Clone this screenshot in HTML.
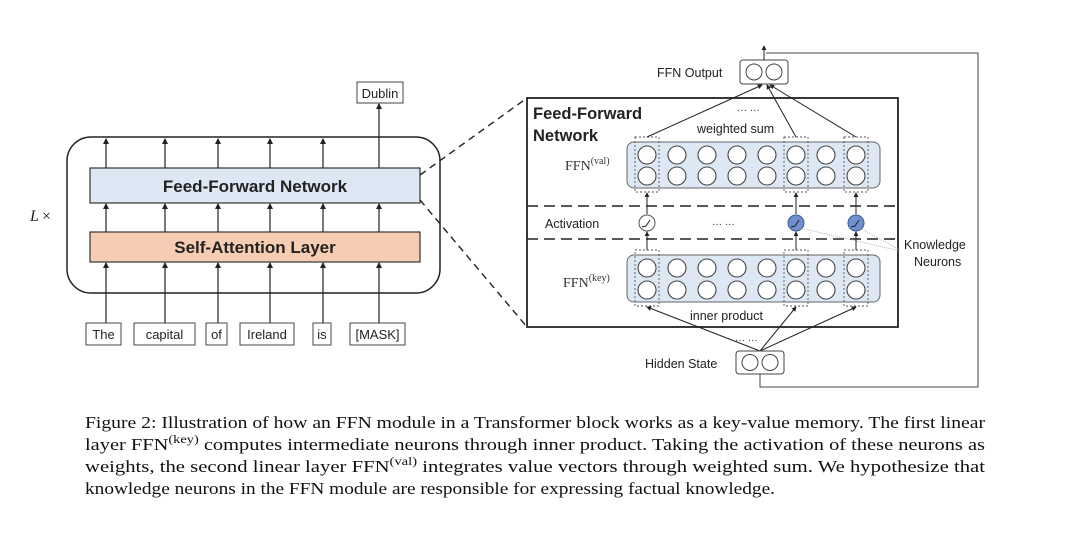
<!DOCTYPE html>
<html><head><meta charset="utf-8"><style>
html,body{margin:0;padding:0;background:#fff;}
svg{display:block;}
.s{font-family:"Liberation Sans",sans-serif;}
.r{font-family:"Liberation Serif",serif;}
</style></head><body>
<svg width="1077" height="543" viewBox="0 0 1077 543" xmlns="http://www.w3.org/2000/svg">
<defs>
<marker id="a" viewBox="0 0 6 6" refX="5" refY="3" markerWidth="5" markerHeight="5" orient="auto"><path d="M0,0 L6,3 L0,6 z" fill="#222"/></marker>
</defs>
<rect width="1077" height="543" fill="#fff"/>
<!-- LEFT -->
<rect x="67" y="137" width="373" height="156" rx="24" fill="none" stroke="#222" stroke-width="1.5"/>
<g stroke="#222" stroke-width="1.2" marker-end="url(#a)">
<line x1="106" y1="323" x2="106" y2="263"/><line x1="165" y1="323" x2="165" y2="263"/><line x1="218" y1="323" x2="218" y2="263"/><line x1="270" y1="323" x2="270" y2="263"/><line x1="323" y1="323" x2="323" y2="263"/><line x1="379" y1="323" x2="379" y2="263"/>
<line x1="106" y1="232" x2="106" y2="204"/><line x1="165" y1="232" x2="165" y2="204"/><line x1="218" y1="232" x2="218" y2="204"/><line x1="270" y1="232" x2="270" y2="204"/><line x1="323" y1="232" x2="323" y2="204"/><line x1="379" y1="232" x2="379" y2="204"/>
<line x1="106" y1="168" x2="106" y2="139"/><line x1="165" y1="168" x2="165" y2="139"/><line x1="218" y1="168" x2="218" y2="139"/><line x1="270" y1="168" x2="270" y2="139"/><line x1="323" y1="168" x2="323" y2="139"/><line x1="379" y1="168" x2="379" y2="104"/>
</g>
<rect x="90" y="168" width="330" height="35" fill="#dde8f4" stroke="#333" stroke-width="1.2"/>
<text x="255" y="192" class="s" font-size="17" font-weight="bold" text-anchor="middle" fill="#222">Feed-Forward Network</text>
<rect x="90" y="232" width="330" height="30" fill="#f6cdb3" stroke="#333" stroke-width="1.2"/>
<text x="255" y="253" class="s" font-size="17" font-weight="bold" text-anchor="middle" fill="#222">Self-Attention Layer</text>
<text x="30" y="221" class="r" font-size="16" font-style="italic" fill="#222">L</text><text x="42" y="221" class="r" font-size="16" fill="#222">×</text>
<g fill="#fff" stroke="#444" stroke-width="1">
<rect x="86" y="323" width="35" height="22"/><rect x="134" y="323" width="61" height="22"/><rect x="206" y="323" width="21" height="22"/><rect x="240" y="323" width="54" height="22"/><rect x="313" y="323" width="18" height="22"/><rect x="350" y="323" width="55" height="22"/>
<rect x="357" y="82" width="46" height="21"/>
</g>
<g class="s" font-size="13" fill="#222" text-anchor="middle">
<text x="103.5" y="339">The</text><text x="164.5" y="339">capital</text><text x="216.5" y="339">of</text><text x="267" y="339">Ireland</text><text x="322" y="339">is</text><text x="377.5" y="339">[MASK]</text>
<text x="380" y="98">Dublin</text>
</g>
<line x1="420" y1="175" x2="527" y2="98" stroke="#222" stroke-width="1.4" stroke-dasharray="7,5"/>
<line x1="420" y1="200" x2="527" y2="327" stroke="#222" stroke-width="1.4" stroke-dasharray="7,5"/>
<!-- RIGHT -->
<rect x="527" y="98" width="371" height="229" fill="#fff" stroke="#222" stroke-width="1.8"/>
<text x="533" y="119" class="s" font-size="16.5" font-weight="bold" fill="#222">Feed-Forward</text>
<text x="533" y="141" class="s" font-size="16.5" font-weight="bold" fill="#222">Network</text>
<line x1="527" y1="206" x2="898" y2="206" stroke="#222" stroke-width="1.6" stroke-dasharray="11,6"/>
<line x1="527" y1="239" x2="898" y2="239" stroke="#222" stroke-width="1.6" stroke-dasharray="11,6"/>
<rect x="627" y="142" width="253" height="46" rx="7" fill="#dde8f4" stroke="#666" stroke-width="1"/>
<rect x="627" y="255" width="253" height="47" rx="7" fill="#dde8f4" stroke="#666" stroke-width="1"/>
<g fill="none" stroke="#555" stroke-width="0.9" stroke-dasharray="2,2">
<rect x="635" y="137" width="24" height="55"/><rect x="784" y="137" width="24" height="55"/><rect x="844" y="137" width="24" height="55"/>
<rect x="635" y="250" width="24" height="56"/><rect x="784" y="250" width="24" height="56"/><rect x="844" y="250" width="24" height="56"/>
</g>
<g fill="#fff" stroke="#444" stroke-width="1.1">
<circle cx="647" cy="155" r="9"/><circle cx="677" cy="155" r="9"/><circle cx="707" cy="155" r="9"/><circle cx="737" cy="155" r="9"/><circle cx="767" cy="155" r="9"/><circle cx="796" cy="155" r="9"/><circle cx="826" cy="155" r="9"/><circle cx="856" cy="155" r="9"/>
<circle cx="647" cy="176" r="9"/><circle cx="677" cy="176" r="9"/><circle cx="707" cy="176" r="9"/><circle cx="737" cy="176" r="9"/><circle cx="767" cy="176" r="9"/><circle cx="796" cy="176" r="9"/><circle cx="826" cy="176" r="9"/><circle cx="856" cy="176" r="9"/>
<circle cx="647" cy="268" r="9"/><circle cx="677" cy="268" r="9"/><circle cx="707" cy="268" r="9"/><circle cx="737" cy="268" r="9"/><circle cx="767" cy="268" r="9"/><circle cx="796" cy="268" r="9"/><circle cx="826" cy="268" r="9"/><circle cx="856" cy="268" r="9"/>
<circle cx="647" cy="290" r="9"/><circle cx="677" cy="290" r="9"/><circle cx="707" cy="290" r="9"/><circle cx="737" cy="290" r="9"/><circle cx="767" cy="290" r="9"/><circle cx="796" cy="290" r="9"/><circle cx="826" cy="290" r="9"/><circle cx="856" cy="290" r="9"/>
</g>
<!-- activation -->
<g stroke="#222" stroke-width="1" marker-end="url(#a)">
<line x1="647" y1="250" x2="647" y2="232"/><line x1="796" y1="250" x2="796" y2="232"/><line x1="856" y1="250" x2="856" y2="232"/>
<line x1="647" y1="214" x2="647" y2="193"/><line x1="796" y1="214" x2="796" y2="193"/><line x1="856" y1="214" x2="856" y2="193"/>
<line x1="647" y1="137" x2="762" y2="85"/><line x1="796" y1="137" x2="767" y2="85"/><line x1="856" y1="137" x2="770" y2="85"/>
<line x1="760" y1="351" x2="647" y2="307"/><line x1="760" y1="351" x2="796" y2="307"/><line x1="760" y1="351" x2="856" y2="307"/>
</g>
<circle cx="647" cy="223" r="8" fill="#fff" stroke="#555"/>
<circle cx="796" cy="223" r="8" fill="#6f8fcf" stroke="#3c5a99"/>
<circle cx="856" cy="223" r="8" fill="#6f8fcf" stroke="#3c5a99"/>
<g fill="none" stroke="#222" stroke-width="1"><path d="M642,227 L646,226 L650,220"/><path d="M791,227 L795,226 L799,220"/><path d="M851,227 L855,226 L859,220"/></g>
<line x1="800" y1="228" x2="900" y2="251" stroke="#aaa" stroke-width="0.8" stroke-dasharray="1,1"/>
<line x1="860" y1="228" x2="900" y2="250" stroke="#aaa" stroke-width="0.8" stroke-dasharray="1,1"/>
<g class="s" font-size="12.5" fill="#222">
<text x="697" y="133">weighted sum</text>
<text x="545" y="228">Activation</text>
<text x="690" y="320">inner product</text>
<text x="904" y="249">Knowledge</text><text x="914" y="266">Neurons</text>
<text x="645" y="368">Hidden State</text>
<text x="657" y="77">FFN Output</text>
<text x="737" y="113" font-size="10">··· ···</text>
<text x="712" y="227" font-size="10">··· ···</text>
<text x="735" y="343" font-size="10">··· ···</text>
</g>
<text x="565" y="170" class="r" font-size="14" fill="#333">FFN<tspan dy="-6" font-size="10">(val)</tspan></text>
<text x="563" y="287" class="r" font-size="14" fill="#333">FFN<tspan dy="-6" font-size="10">(key)</tspan></text>
<!-- io boxes -->
<rect x="740" y="60" width="48" height="24" rx="3" fill="#fff" stroke="#444"/>
<circle cx="754" cy="72" r="8" fill="#fff" stroke="#444"/><circle cx="774" cy="72" r="8" fill="#fff" stroke="#444"/>
<rect x="736" y="351" width="48" height="23" rx="3" fill="#fff" stroke="#444"/>
<circle cx="750" cy="362.5" r="8" fill="#fff" stroke="#444"/><circle cx="770" cy="362.5" r="8" fill="#fff" stroke="#444"/>
<polyline points="760,374 760,387 978,387 978,53 766,53" fill="none" stroke="#444" stroke-width="1"/>
<line x1="764" y1="60" x2="764" y2="46" stroke="#222" stroke-width="1" marker-end="url(#a)"/>
<!-- caption -->
<g class="r" font-size="17" fill="#111">
<text x="85" y="428" textLength="900" lengthAdjust="spacingAndGlyphs">Figure 2: Illustration of how an FFN module in a Transformer block works as a key-value memory. The first linear</text>
<text x="85" y="450" textLength="900" lengthAdjust="spacingAndGlyphs">layer FFN<tspan dy="-7" font-size="12">(key)</tspan><tspan dy="7"> computes intermediate neurons through inner product.  Taking the activation of these neurons as</tspan></text>
<text x="85" y="472" textLength="900" lengthAdjust="spacingAndGlyphs">weights, the second linear layer FFN<tspan dy="-7" font-size="12">(val)</tspan><tspan dy="7"> integrates value vectors through weighted sum.  We hypothesize that</tspan></text>
<text x="85" y="494" textLength="690" lengthAdjust="spacingAndGlyphs">knowledge neurons in the FFN module are responsible for expressing factual knowledge.</text>
</g>
</svg>
</body></html>
